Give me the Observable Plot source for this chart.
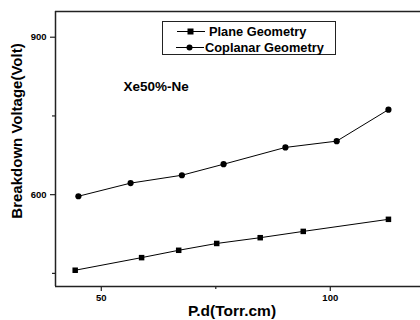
<!DOCTYPE html>
<html>
<head>
<meta charset="utf-8">
<script src="https://cdn.jsdelivr.net/npm/d3@7"></script>
<script src="https://cdn.jsdelivr.net/npm/@observablehq/plot@0.6"></script>
<style>
  html, body { margin: 0; padding: 0; background: #fff; overflow: hidden; }
  #wrap { position: relative; width: 420px; height: 320px; font-family: "Liberation Sans", Arial, sans-serif; font-weight: bold; }
  #legend { position: absolute; left: 162px; top: 21px; width: 172px; height: 32px; border: 1px solid #222; background: #fff; }
  .row { position: absolute; left: 0; height: 16px; display: flex; align-items: center; font-size: 12.8px; color: #000; white-space: nowrap; }
</style>
</head>
<body>
<div id="wrap"></div>
<script>
// Data
const pdPlane = [44.3, 58.8, 66.9, 75.2, 84.7, 94.1, 112.7];
const vPlane  = [456, 480, 494, 507, 518, 530, 553];
const pdCoplanar = [45.0, 56.4, 67.6, 76.7, 90.2, 101.4, 112.7];
const vCoplanar  = [597, 622, 637, 658, 690, 702, 762];
const seriesNames = ["Plane Geometry", "Coplanar Geometry"];
const xDomain = [40, 119.7];
const yDomain = [425, 949];
const xMajorTicks = [50, 100];
const xMinorTicks = [75];
const yMajorTicks = [600, 900];
const yMinorTicks = [450, 750];
const annotation = "Xe50%-Ne";
const xLabel = "P.d(Torr.cm)";
const yLabel = "Breakdown Voltage(Volt)";

const plane = pdPlane.map((x, i) => ({x, y: vPlane[i]}));
const coplanar = pdCoplanar.map((x, i) => ({x, y: vCoplanar[i]}));
const axisColor = "#222";

const chart = Plot.plot({
  width: 420,
  height: 320,
  marginLeft: 55,
  marginRight: 0,
  marginTop: 11,
  marginBottom: 34,
  style: {fontFamily: "'Liberation Sans', Arial, sans-serif", fontWeight: "bold", fontSize: "9.5px", background: "#fff", color: "#000"},
  x: {domain: xDomain, range: [55, 420]},
  y: {domain: yDomain},
  marks: [
    Plot.axisX(xMajorTicks, {tickSize: 5, tickPadding: 3, stroke: axisColor, strokeWidth: 1.2, label: null, fontSize: 9.5}),
    Plot.axisX(xMinorTicks, {tickSize: 3, text: null, stroke: axisColor, strokeWidth: 1.2, label: null}),
    Plot.axisY(yMajorTicks, {tickSize: 5, tickPadding: 4, stroke: axisColor, strokeWidth: 1.2, label: null, fontSize: 9.5}),
    Plot.axisY(yMinorTicks, {tickSize: 3, text: null, stroke: axisColor, strokeWidth: 1.2, label: null}),
    Plot.ruleX([xDomain[0]], {stroke: axisColor, strokeWidth: 1.5}),
    Plot.ruleY([yDomain[0], yDomain[1]], {stroke: axisColor, strokeWidth: 1.5}),
    Plot.line(plane, {x: "x", y: "y", stroke: "#000", strokeWidth: 1}),
    Plot.dot(plane, {x: "x", y: "y", symbol: "square", r: 3.1, fill: "#000", stroke: null}),
    Plot.line(coplanar, {x: "x", y: "y", stroke: "#000", strokeWidth: 1}),
    Plot.dot(coplanar, {x: "x", y: "y", symbol: "circle", r: 3.1, fill: "#000", stroke: null}),
    Plot.text([annotation], {frameAnchor: "top-left", dx: 68, dy: 75, textAnchor: "start", lineAnchor: "middle", fontSize: 13.5, fontWeight: "bold", fill: "#000"}),
    Plot.text([xLabel], {frameAnchor: "bottom", dx: -6, dy: 25, textAnchor: "middle", lineAnchor: "middle", fontSize: 15.5, fontWeight: "bold", fill: "#000"}),
    Plot.text([yLabel], {frameAnchor: "left", dx: -38, dy: -18, rotate: -90, textAnchor: "middle", lineAnchor: "middle", fontSize: 15, fontWeight: "bold", fill: "#000"})
  ]
});

const wrap = document.getElementById("wrap");
wrap.appendChild(chart);

// Legend
const legend = document.createElement("div");
legend.id = "legend";
const sym = (shape) => {
  const s = shape === "square"
    ? '<rect x="11.5" y="3.5" width="6" height="6" fill="#000"/>'
    : '<circle cx="14.5" cy="6.5" r="3" fill="#000"/>';
  return '<svg width="30" height="13" style="display:block"><line x1="1" x2="29" y1="6.5" y2="6.5" stroke="#000" stroke-width="1"/>' + s + '</svg>';
};
[["square", seriesNames[0], 13, 1.5], ["circle", seriesNames[1], 12, 17]].forEach(([shape, name, left, top]) => {
  const r = document.createElement("div");
  r.className = "row";
  r.style.left = left + "px";
  r.style.top = top + "px";
  r.innerHTML = sym(shape) + '<span style="margin-left:' + (shape === "square" ? 3 : 0) + 'px">' + name + '</span>';
  legend.appendChild(r);
});
wrap.appendChild(legend);
</script>
</body>
</html>
